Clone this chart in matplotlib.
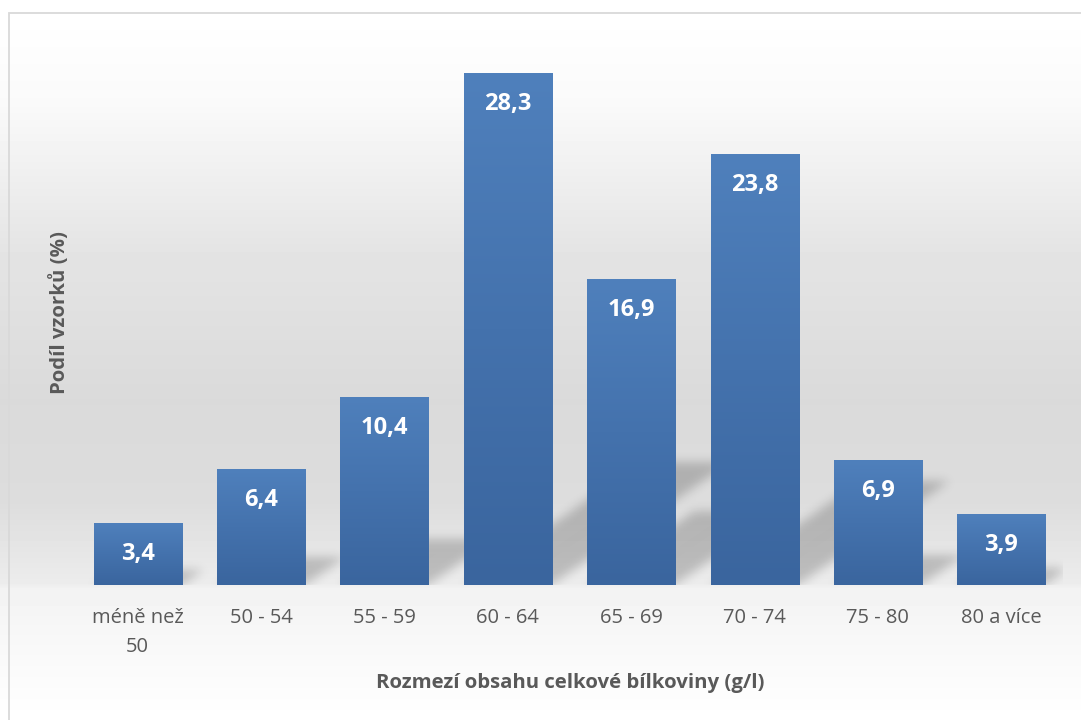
import numpy as np
import matplotlib.pyplot as plt
from matplotlib.colors import LinearSegmentedColormap
from matplotlib.patches import Rectangle

plt.rcParams['font.family'] = ['Open Sans', 'DejaVu Sans']

# data
categories = ["méně než\n50", "50 - 54", "55 - 59", "60 - 64",
              "65 - 69", "70 - 74", "75 - 80", "80 a více"]
values = [3.4, 6.4, 10.4, 28.3, 16.9, 23.8, 6.9, 3.9]
xlabel = "Rozmezí obsahu celkové bílkoviny (g/l)"
ylabel = "Podíl vzorků (%)"

W, H = 1081, 720
fig = plt.figure(figsize=(W / 100, H / 100), dpi=100)

# background: soft vertical grey gradient + thin frame
bg = fig.add_axes([0, 0, 1, 1])
bg.axis('off')
stops_px = [0, 13, 100, 250, 400, 500, 583, 588, 650, 720]
stops_gray = [1.0, 1.0, 0.98, 0.895, 0.855, 0.865, 0.925, 0.95, 0.975, 1.0]
col = np.interp(np.arange(H), stops_px, stops_gray)
bg.imshow(col[:, None], cmap='gray', vmin=0, vmax=1, aspect='auto',
          extent=(0, 1, 0, 1), interpolation='nearest')
bg.add_patch(Rectangle((9 / W, -0.1), 1.2, 1 - 13 / H + 0.1, fill=False,
                       edgecolor='#d9d9d9', lw=1.3))
bg.set_xlim(0, 1)
bg.set_ylim(0, 1)

ax = fig.add_axes([76 / W, 135 / H, 987 / W, 542.7 / H])
ax.set_facecolor('none')
x = np.arange(len(values))
width = 0.714
xlim = (-0.5, len(values) - 0.5)
ylim = (0, 30)

# perspective shadows (skewed, squashed, blurred)
nx, ny = 987, 543
xs = np.linspace(xlim[0], xlim[1], nx)
ys = np.linspace(ylim[0], ylim[1], ny)
X, Y = np.meshgrid(xs, ys)
mask = np.zeros_like(X)
for xi, h in zip(x, values):
    top = 0.24 * h
    shift = 0.0514 * h
    s = shift * Y / top
    inside = (Y <= top) & (X >= xi - width / 2 + s) & (X <= xi + width / 2 + s)
    mask = np.maximum(mask, inside.astype(float))
k = np.arange(-15, 16)
kern = np.exp(-k ** 2 / (2 * 5.0 ** 2))
kern /= kern.sum()
pad = np.pad(mask, 15, mode='constant')
pad = np.apply_along_axis(lambda r: np.convolve(r, kern, mode='same'), 1, pad)
pad = np.apply_along_axis(lambda c: np.convolve(c, kern, mode='same'), 0, pad)
blur = pad[15:-15, 15:-15]
rgba = np.zeros((ny, nx, 4))
rgba[..., 3] = 0.2 * blur
ax.imshow(rgba, extent=(*xlim, *ylim), origin='lower', aspect='auto',
          zorder=1, interpolation='nearest')

# gradient bars
cmap = LinearSegmentedColormap.from_list('bar', ['#3a659e', '#4472ad', '#4f80bc'])
bars = ax.bar(x, values, width=width, color='none', edgecolor='none', zorder=2)
grad = np.linspace(0, 1, 256)[:, None]
for b in bars:
    x0, h = b.get_x(), b.get_height()
    im = ax.imshow(grad, cmap=cmap, extent=(x0, x0 + b.get_width(), 0, h),
                   origin='lower', aspect='auto', zorder=2,
                   interpolation='bilinear')
    im.set_clip_path(b)
    ax.annotate(f"{h:.1f}".replace('.', ','), (b.get_x() + b.get_width() / 2, h),
                xytext=(0, -31), textcoords='offset pixels', ha='center',
                va='center', color='white', fontweight='bold', fontsize=17,
                zorder=3)

ax.set_xlim(*xlim)
ax.set_ylim(*ylim)
ax.set_xticks(x, categories)
ax.set_yticks([])
ax.tick_params(axis='x', length=0, pad=16.5, labelsize=14.5, labelcolor='#595959')
for t in ax.get_xticklabels():
    t.set_linespacing(1.62)
for sp in ax.spines.values():
    sp.set_visible(False)

fig.text(570 / W, 1 - 683 / H, xlabel, ha='center', va='center',
         fontsize=14.7, fontweight='bold', color='#595959')
fig.text(60 / W, 1 - 312 / H, ylabel, ha='center', va='center', rotation=90,
         fontsize=14.7, fontweight='bold', color='#595959')

fig.savefig('out.png', dpi=100)
